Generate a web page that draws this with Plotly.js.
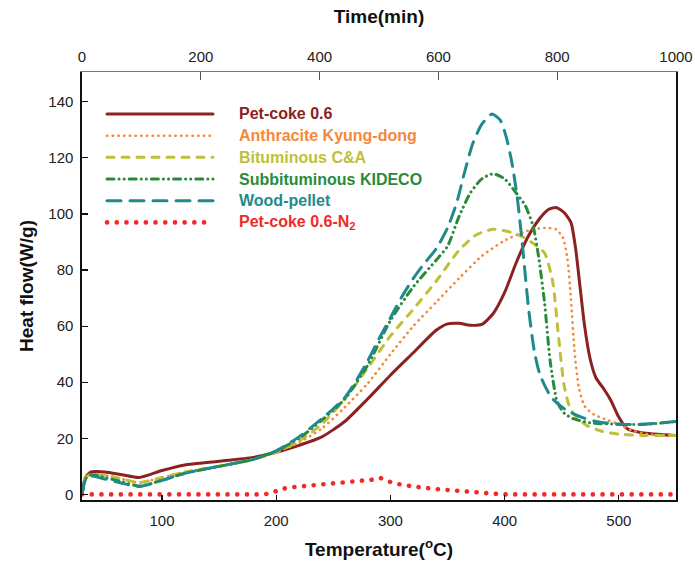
<!DOCTYPE html>
<html><head><meta charset="utf-8">
<script src="https://cdn.plot.ly/plotly-3.0.1.min.js"></script>
<style>html,body{margin:0;padding:0;background:#fff}#chart{width:695px;height:567px}</style>
</head><body><div id="chart"></div>
<script>
// ---- data ----
const seriesNames = ['Pet-coke 0.6', 'Anthracite Kyung-dong', 'Bituminous C&A', 'Subbituminous KIDECO', 'Wood-pellet', 'Pet-coke 0.6-N<sub>2</sub>'];

const petcokeT = [30, 33, 38, 50, 65, 80, 100, 120, 150, 180, 200, 220, 240, 260, 280, 300, 320, 340, 350, 360, 370, 380, 390, 400, 410, 420, 430, 438, 445, 452, 458, 462, 466, 470, 475, 480, 487, 493, 500, 507, 520, 550];
const petcokeY = [0, 6, 8, 8, 7, 6, 8.5, 10.5, 11.8, 13.2, 15, 17.5, 20.5, 26, 34, 42.5, 50.5, 58.5, 60.8, 61, 60.3, 60.6, 64.5, 72, 82.5, 91.5, 98, 101.5, 102.3, 100.5, 97, 88, 74, 60, 48, 41.5, 37.5, 33.5, 27.5, 23.5, 22, 21];

const anthraciteT = [30, 33, 38, 50, 65, 80, 100, 120, 150, 180, 200, 220, 240, 260, 280, 300, 320, 340, 360, 380, 400, 420, 435, 445, 451, 455, 458, 461, 465, 470, 478, 490, 500, 510, 525, 550];
const anthraciteY = [0, 6, 7.2, 6.8, 5.5, 4.2, 6, 8, 10, 12.5, 15, 18.5, 23.5, 31, 39.5, 50, 60, 68.5, 77, 85, 90.5, 94, 95, 94.5, 91.5, 84, 70, 52, 38, 31.5, 28.5, 26.5, 25, 23, 21.5, 21];

const bituminousT = [30, 33, 38, 50, 65, 80, 100, 120, 150, 180, 200, 220, 240, 260, 280, 300, 320, 340, 360, 375, 390, 405, 415, 425, 435, 442, 447, 452, 457, 463, 472, 485, 500, 520, 550];
const bituminousY = [0, 6, 7.2, 6.8, 5.5, 4.2, 6, 8, 10, 12.5, 15, 19, 25, 34, 45, 56.5, 66, 76, 87, 92.5, 94.5, 93.5, 92, 89.5, 86, 76, 57, 39, 31, 27.5, 24.5, 22.5, 21.5, 21, 21];

const subbitT = [30, 33, 38, 50, 65, 80, 100, 120, 150, 180, 200, 220, 240, 260, 280, 300, 320, 340, 350, 360, 370, 380, 390, 400, 410, 418, 425, 430, 435, 440, 446, 452, 460, 475, 500, 525, 550];
const subbitY = [0, 5.5, 7, 6, 4.5, 3, 5, 7.5, 10, 12.5, 15.5, 20, 26.5, 34, 46, 62, 74, 83.5, 88.5, 99, 107.5, 112.5, 114.3, 112.5, 107.5, 103, 95.5, 84, 68, 47, 33, 29, 27, 25.5, 25, 25, 26];

const woodT = [30, 33, 38, 50, 65, 80, 100, 120, 150, 180, 200, 220, 240, 250, 260, 270, 280, 290, 300, 310, 320, 330, 340, 350, 358, 365, 372, 380, 389, 396, 401, 406, 411, 416, 421, 426, 431, 441, 454, 466, 480, 500, 520, 550];
const woodY = [0, 5, 6.5, 5.5, 4, 2.8, 5, 7.5, 10, 12.5, 15.5, 20.5, 27, 30.5, 34.5, 40.5, 47.5, 55.5, 63, 70.5, 77, 82.5, 87.5, 95, 104, 115, 125, 132, 135.6, 133.5, 128, 119, 106, 87, 66, 51, 42.5, 34.5, 30, 27.7, 26, 25, 25, 26];

const n2T = [30, 100, 190, 198, 205, 215, 230, 250, 270, 283, 291, 297, 305, 320, 340, 360, 380, 398, 420, 550];
const n2Y = [0, 0, 0, 0.8, 2, 2.6, 3.1, 3.8, 4.5, 5.2, 5.9, 4.8, 3.8, 2.8, 1.9, 1.2, 0.6, 0, 0, 0];

const tempTicks = [100, 200, 300, 400, 500];
const heatTicks = [0, 20, 40, 60, 80, 100, 120, 140];
const timeTicks = [0, 200, 400, 600, 800, 1000];
const timeRange = [0, 1000];

// ---- styles ----
const colors = ['#8B2121', '#F5883A', '#BFBF38', '#2A8A3B', '#1F8A8C', '#EE2B2B'];
const widths = [3, 2.6, 3, 3, 3, 4.6];
const dashes = ['solid', '0.3px,5.4px', '7px,8px', '7px,5px,0.1px,5px,0.1px,5px', '14px,9px', '0.1px,9.6px'];
const FONT = 'Liberation Sans, Arial, Helvetica, sans-serif';

const xs = [petcokeT, anthraciteT, bituminousT, subbitT, woodT, n2T];
const ys = [petcokeY, anthraciteY, bituminousY, subbitY, woodY, n2Y];

const traces = xs.map((x, i) => ({
  type: 'scatter', mode: 'lines', x: x, y: ys[i], name: seriesNames[i],
  line: {color: colors[i], width: widths[i], dash: dashes[i], shape: i === 5 ? 'linear' : 'spline', smoothing: 0.6},
  showlegend: false, hoverinfo: 'skip'
}));
// top time axis carrier (invisible)
traces.push({type: 'scatter', mode: 'lines', x: timeRange, y: [0, 0], xaxis: 'x2', yaxis: 'y',
  line: {color: 'rgba(0,0,0,0)', width: 0}, showlegend: false, hoverinfo: 'skip'});

// ---- manual legend (layout positions in pixels -> paper) ----
const L = 82, R = 676, T = 72, B = 500;
const px = v => (v - L) / (R - L);
const py = v => (B - v) / (B - T);
const rowY = [114, 135.7, 157.3, 179, 200.7, 222.4];
const shapes = [], annotations = [];
seriesNames.forEach((n, i) => {
  shapes.push({type: 'line', xref: 'paper', yref: 'paper', x0: px(107), x1: px(213), y0: py(rowY[i]), y1: py(rowY[i]),
    line: {color: colors[i], width: widths[i], dash: dashes[i]}});
  annotations.push({xref: 'paper', yref: 'paper', x: px(237), y: py(rowY[i]), xanchor: 'left', yanchor: 'middle',
    text: n, showarrow: false, font: {family: FONT, size: 16, color: colors[i], weight: 'bold'}});
});

const layout = {
  width: 695, height: 567,
  margin: {l: L, r: 695 - R, t: T, b: 567 - B, pad: 0},
  paper_bgcolor: '#fff', plot_bgcolor: '#fff',
  font: {family: FONT, size: 15, color: '#222'},
  showlegend: false,
  xaxis: {range: [30, 550], tickvals: tempTicks, ticks: 'inside', ticklen: 5, tickcolor: '#111', tickwidth: 1.2,
    showline: true, linecolor: '#111', linewidth: 1.6, showgrid: false, zeroline: false,
    ticklabelstandoff: 6, tickfont: {size: 15, color: '#222'},
    title: {text: 'Temperature(<sup>o</sup>C)', font: {size: 19, weight: 'bold', color: '#111'}, standoff: 15}},
  xaxis2: {range: timeRange, overlaying: 'x', side: 'top', anchor: 'y', tickvals: timeTicks, ticks: 'inside', ticklen: 8,
    tickcolor: '#555', tickwidth: 1, showline: true, linecolor: '#777', linewidth: 1.4, showgrid: false, zeroline: false,
    ticklabelstandoff: 3, tickfont: {size: 15, color: '#222'},
    title: {text: 'Time(min)', font: {size: 19, weight: 'bold', color: '#111'}, standoff: 19}},
  yaxis: {range: [-2, 150.6], tickvals: heatTicks, ticks: 'inside', ticklen: 6, tickcolor: '#111', tickwidth: 1.2,
    showline: true, mirror: true, linecolor: '#111', linewidth: 1.6, showgrid: false, zeroline: false,
    ticklabelstandoff: 4, tickfont: {size: 15, color: '#222'},
    title: {text: 'Heat flow(W/g)', font: {size: 19, weight: 'bold', color: '#111'}, standoff: 10}},
  shapes: shapes, annotations: annotations
};

Plotly.newPlot('chart', traces, layout, {staticPlot: true, displayModeBar: false}).then(() => {
  document.querySelectorAll('.scatterlayer path.js-line, .shapelayer path').forEach(p => {
    p.style.strokeLinecap = 'round';
  });
});
</script></body></html>
